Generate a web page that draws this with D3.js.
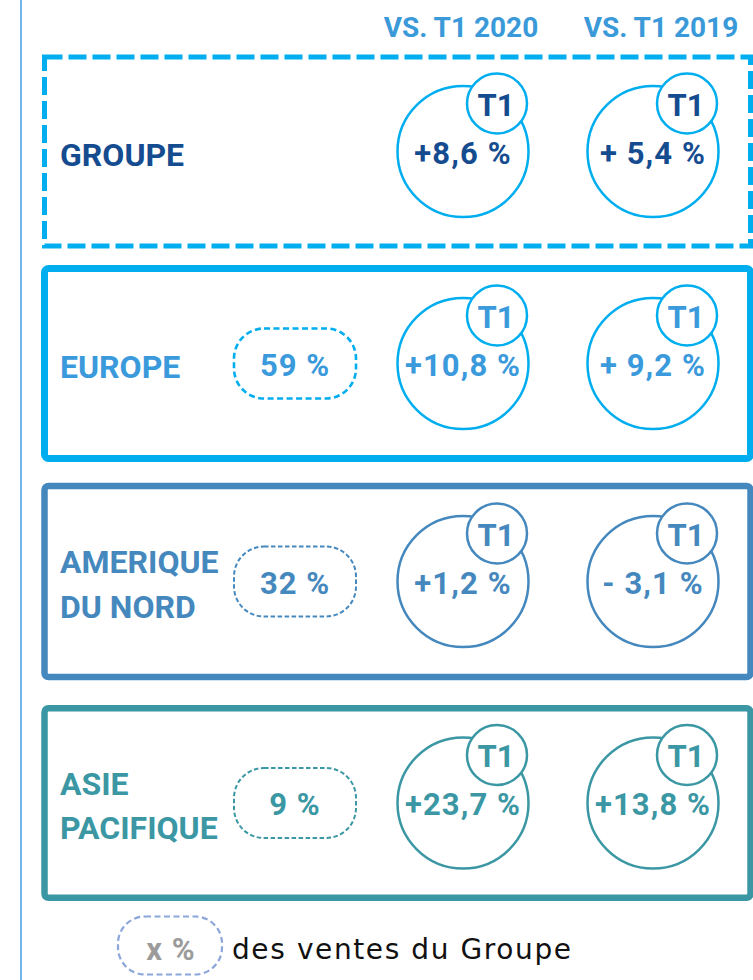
<!DOCTYPE html>
<html>
<head>
<meta charset="utf-8">
<script src="https://cdn.jsdelivr.net/npm/d3@7"></script>
<style>
  html, body { margin: 0; padding: 0; background: #fff; }
  svg { display: block; }
  text { font-family: Roboto, "Open Sans", sans-serif; }
</style>
</head>
<body>
<svg id="chart" width="753" height="980"></svg>
<script>
// ---- data ----
const columns = ["VS. T1 2020", "VS. T1 2019"];
const regions = ["GROUPE", "EUROPE", "AMERIQUE\nDU NORD", "ASIE\nPACIFIQUE"];
const shares = [null, "59 %", "32 %", "9 %"];
const vs2020 = ["+8,6 %", "+10,8 %", "+1,2 %", "+23,7 %"];
const vs2019 = ["+ 5,4 %", "+ 9,2 %", "- 3,1 %", "+13,8 %"];
const badge = "T1";
const legendSample = "x %";
const legendText = "des ventes du Groupe";

// ---- styles ----
const boxColor = ["#00AEEF", "#00AEEF", "#4588BE", "#3A97A3"];
const textColor = ["#154C8F", "#3A9ADC", "#4588BE", "#3A97A3"];

const svg = d3.select("#chart");

// scales
const y = d3.scaleOrdinal().domain(regions).range([151.5, 363.5, 581.5, 803]);
const boxH = d3.scaleOrdinal().domain(regions).range([189, 190, 191, 189.5]);
const x = d3.scaleOrdinal().domain(columns).range([463, 653]);
const xHead = d3.scaleOrdinal().domain(columns).range([461, 661]);

// left rule
svg.append("line").attr("x1", 21).attr("x2", 21).attr("y1", 0).attr("y2", 980)
  .attr("stroke", "#4DA6E8").attr("stroke-width", 1.6);

// headers
svg.selectAll("text.hdr").data(columns).join("text")
  .attr("class", "hdr")
  .attr("x", d => xHead(d)).attr("y", 37)
  .attr("text-anchor", "middle")
  .attr("font-size", 28).attr("font-weight", 700)
  .attr("fill", "#3A9AD9")
  .text(d => d);

const rows = svg.selectAll("g.row").data(regions).join("g").attr("class", "row");

// boxes
rows.append("rect")
  .attr("x", 44.5)
  .attr("y", d => y(d) - boxH(d) / 2)
  .attr("width", 706)
  .attr("height", d => boxH(d))
  .attr("rx", (d, i) => i === 0 ? 0 : 4)
  .attr("fill", "none")
  .attr("stroke", (d, i) => boxColor[i])
  .attr("stroke-width", (d, i) => i === 0 ? 5 : (i === 1 ? 7 : 6.5))
  .attr("stroke-dasharray", (d, i) => i === 0 ? "18 6" : null);

// region labels
rows.each(function(d, i) {
  const g = d3.select(this);
  const lines = d.split("\n");
  const off = lines.length === 1 ? [14] : [-8.5, 36];
  lines.forEach((ln, k) => {
    g.append("text")
      .attr("x", 60).attr("y", y(d) + off[k])
      .attr("font-size", 32).attr("font-weight", 700)
      .attr("fill", textColor[i])
      .text(ln);
  });
});

// share pills
rows.filter((d, i) => shares[i] !== null).each(function(d) {
  const i = regions.indexOf(d);
  const g = d3.select(this);
  g.append("rect")
    .attr("x", 234).attr("y", y(d) - 35)
    .attr("width", 122).attr("height", 70)
    .attr("rx", 30).attr("ry", 30)
    .attr("fill", "none")
    .attr("stroke", i === 1 ? boxColor[i] : textColor[i])
    .attr("stroke-width", i === 1 ? 2.6 : 2)
    .attr("stroke-dasharray", i === 1 ? "6 3.5" : "4.5 2.5");
  g.append("text")
    .attr("x", 295).attr("y", y(d) + 12)
    .attr("text-anchor", "middle")
    .attr("font-size", 31).attr("font-weight", 700)
    .attr("letter-spacing", 1)
    .attr("fill", textColor[i])
    .text(shares[i]);
});

// bubbles
const vals = [vs2020, vs2019];
rows.each(function(d, i) {
  const g = d3.select(this);
  columns.forEach((c, j) => {
    const cx = x(c), cy = y(d);
    const col = i < 2 ? "#00AEEF" : boxColor[i];
    g.append("circle").attr("cx", cx).attr("cy", cy).attr("r", 65.5)
      .attr("fill", "#fff").attr("stroke", col).attr("stroke-width", 2.5);
    g.append("circle").attr("cx", cx + 34).attr("cy", cy - 48).attr("r", 30)
      .attr("fill", "#fff").attr("stroke", col).attr("stroke-width", 2.5);
    g.append("text")
      .attr("x", cx + 33).attr("y", cy - 48 + 12)
      .attr("text-anchor", "middle")
      .attr("font-size", 31).attr("font-weight", 700)
      .attr("fill", textColor[i])
      .text(badge);
    g.append("text")
      .attr("x", cx).attr("y", cy + 12)
      .attr("text-anchor", "middle")
      .attr("font-size", 31).attr("font-weight", 700)
      .attr("letter-spacing", 1.1)
      .attr("fill", textColor[i])
      .text(vals[j][i]);
  });
});

// legend
const lg = svg.append("g");
lg.append("rect")
  .attr("x", 118).attr("y", 916.5).attr("width", 104).attr("height", 58)
  .attr("rx", 27).attr("ry", 27)
  .attr("fill", "none").attr("stroke", "#8BA6DB")
  .attr("stroke-width", 2.2).attr("stroke-dasharray", "6 3.5");
lg.append("text")
  .attr("x", 171).attr("y", 960)
  .attr("text-anchor", "middle")
  .attr("font-size", 31).attr("font-weight", 700)
  .attr("letter-spacing", 1)
  .attr("fill", "#9B9B9B")
  .text(legendSample);
lg.append("text")
  .attr("x", 232).attr("y", 959)
  .style("font-family", "'DejaVu Sans', sans-serif")
  .attr("font-size", 28).attr("font-weight", 400)
  .attr("letter-spacing", 1.6)
  .attr("fill", "#111")
  .text(legendText);
</script>
</body>
</html>
